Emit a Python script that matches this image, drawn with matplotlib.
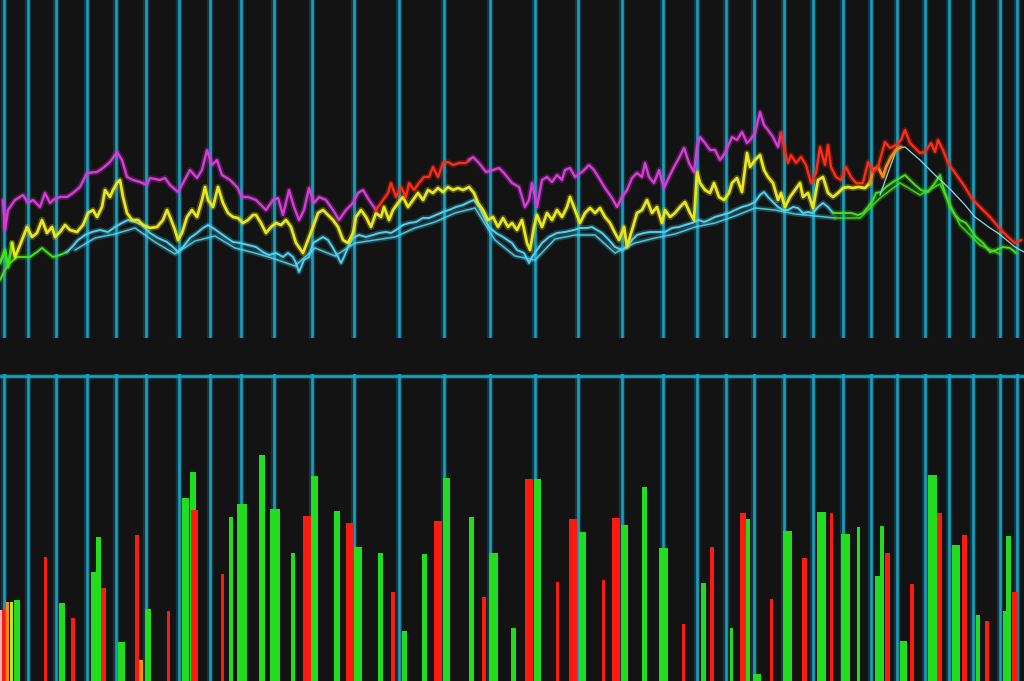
import numpy as np
import matplotlib
matplotlib.use("Agg")
import matplotlib.pyplot as plt
import matplotlib.patheffects as pe

# ---------------- data ----------------
# vertical session separators (time units)
session_marks = [4, 28, 56, 87, 116, 146, 179, 210, 241, 274, 312, 354, 399, 444, 490,
                 535, 578, 622, 663, 697, 726, 754, 784, 813, 843, 871, 897, 925, 949,
                 973, 1000, 1017]

# upper indicator (magenta / red)
upper_t = [3, 5, 8, 15, 23, 28, 33, 40, 45, 50, 53, 60, 67, 73, 80, 87, 97, 103, 110, 117,
           122, 127, 133, 140, 147, 150, 160, 165, 170, 178, 183, 190, 197, 202, 207, 212, 217, 222, 230, 237,
           242, 248, 256, 266, 273, 278, 283, 289, 294, 299, 304, 309, 314, 319, 326, 333, 339, 346, 353, 358,
           363, 369, 376,
           383, 388, 391, 396, 401, 406, 409, 414, 419, 424, 429, 433, 438, 443, 448, 453, 459, 466, 469,
           473, 479, 486, 493, 499, 504, 512, 519, 525, 529, 532, 537, 542, 547, 552, 557, 562, 565, 570, 575,
           582, 589, 594, 599, 605, 612, 617, 622, 627, 632, 637, 642, 645, 649, 654, 659, 664, 669, 674, 679,
           684, 689, 694, 697, 700, 705, 710, 715, 720, 725, 732, 737, 742, 747, 750, 755, 760, 764, 768, 773,
           778, 781,
           785, 788, 791, 796, 801, 806, 811, 816, 820, 825, 828, 831, 836, 841, 846, 851, 856, 863, 868, 873,
           878, 885, 890, 896, 901, 905, 910, 915, 920, 925, 931, 935, 938, 943, 948, 953, 958, 965, 971, 976,
           983, 990, 995, 1001, 1008, 1015, 1021]
upper_v = [138, 108, 128, 138, 143, 135, 138, 131, 145, 135, 138, 141, 141, 145, 151, 165, 166, 170, 176, 186,
           178, 161, 158, 156, 153, 160, 158, 160, 153, 146, 155, 168, 160, 168, 188, 173, 178, 163, 158, 151,
           141, 141, 138, 128, 138, 140, 123, 148, 131, 118, 128, 150, 135, 141, 138, 128, 118, 128, 135, 145,
           148, 138, 128,
           138, 145, 155, 141, 151, 141, 155, 148, 155, 161, 161, 171, 161, 175, 176, 173, 175, 175, 178,
           181, 175, 166, 168, 170, 165, 155, 151, 131, 138, 155, 131, 158, 161, 156, 163, 158, 168, 170, 161,
           166, 173, 168, 160, 150, 140, 131, 141, 148, 160, 165, 161, 175, 161, 155, 168, 150, 161, 171, 180,
           190, 175, 166, 191, 201, 195, 188, 188, 178, 185, 201, 198, 206, 195, 198, 205, 226, 213, 208, 201,
           191, 205,
           186, 175, 183, 175, 181, 173, 155, 165, 191, 173, 193, 171, 161, 158, 171, 161, 155, 155, 176, 166,
           171, 196, 190, 193, 198, 208, 195, 190, 185, 186, 195, 186, 198, 188, 175, 168, 161, 151, 141, 135,
           128, 121, 115, 108, 101, 95, 98]
upper_regimes = [(0, 380, "magenta"), (380, 471, "red"), (471, 783, "magenta"), (783, 1024, "red")]

# middle indicator (yellow)
mid_t = [0, 5, 8, 12, 15, 18, 22, 27, 32, 37, 42, 47, 52, 55, 60, 65, 70, 77, 83, 88,
         93, 97, 102, 105, 110, 113, 117, 120, 123, 127, 132, 138, 143, 150, 157, 163, 167, 170, 175, 178,
         182, 187, 192, 197, 202, 205, 208, 213, 218, 223, 228, 233, 238, 243, 248, 253, 256, 261, 266, 271,
         276, 281, 286, 291, 296, 303, 308, 313, 318, 323, 328, 333, 338, 343, 348, 353, 356, 361, 366, 371,
         376, 381, 384, 389, 393, 398, 403, 408, 413, 418, 423, 428, 433, 438, 443, 448, 453, 458, 463, 469,
         474, 478, 483, 488, 493, 498, 503, 508, 512, 517, 522, 527, 530, 534, 537, 542, 547, 552, 557, 562,
         567, 570, 575, 580, 585, 590, 595, 600, 605, 610, 615, 619, 624, 627, 632, 637, 642, 647, 652, 657,
         662, 665, 670, 675, 680, 685, 690, 694, 697, 700, 705, 710, 714, 719, 724, 729, 732, 737, 742, 747,
         750, 755, 760, 764, 768, 773, 778, 781, 785, 790, 795, 800, 803, 808, 813, 818, 823, 828, 833, 838,
         843, 848, 853, 858, 865, 870, 873, 878, 883, 886, 891, 896, 901]
mid_v = [75, 88, 71, 95, 81, 88, 98, 111, 101, 105, 118, 105, 111, 101, 106, 113, 108, 106, 113, 125,
         128, 121, 131, 148, 141, 148, 155, 158, 141, 125, 118, 118, 113, 110, 111, 118, 128, 121, 108, 98,
         105, 121, 128, 121, 138, 151, 138, 131, 151, 135, 125, 121, 120, 115, 118, 123, 123, 115, 105, 111,
         115, 113, 118, 111, 95, 85, 98, 111, 125, 128, 123, 118, 111, 98, 95, 105, 121, 128, 121, 111,
         125, 121, 131, 118, 128, 135, 141, 131, 138, 145, 138, 148, 145, 150, 146, 151, 148, 150, 148, 151,
         145, 135, 128, 118, 121, 111, 120, 111, 115, 108, 118, 95, 88, 111, 123, 111, 125, 118, 128, 121,
         131, 141, 128, 115, 125, 130, 125, 130, 121, 115, 105, 98, 111, 91, 108, 125, 128, 138, 125, 131,
         115, 128, 121, 125, 131, 136, 125, 118, 166, 155, 148, 145, 155, 141, 138, 145, 155, 160, 146, 185,
         171, 178, 183, 168, 161, 155, 138, 145, 131, 141, 148, 155, 141, 145, 130, 158, 161, 145, 141, 145,
         150, 151, 150, 151, 150, 155, 168, 171, 161, 171, 181, 188, 191]
mid_regimes = [(0, 14, "lime"), (14, 872, "yellow"), (872, 1024, "orange")]

# lower indicator (cyan / lime)
low_t = [0, 5, 10, 17, 23, 30, 37, 42, 48, 53, 60, 67, 72, 78, 85, 92, 100, 108, 115, 122,
         128, 135, 142, 150, 158, 167, 173, 178, 183, 190, 197, 203, 208, 213, 220, 227, 233, 240, 248, 256,
         263, 269, 276, 283, 288, 293, 296, 299, 304, 309, 313, 318, 323, 328, 333, 338, 341, 344, 348, 353,
         359, 366, 373, 379, 386, 391, 396, 403, 409, 416, 423, 429, 436, 443, 449, 456, 463, 469, 474, 479,
         484, 489, 496, 503, 512, 517, 524, 529, 532, 537, 542, 549, 557, 565, 574, 580, 587, 592, 597, 602,
         609, 615, 622, 627, 632, 637, 644, 650, 659, 665, 672, 679, 685, 692, 699, 704, 709, 715, 722, 729,
         735, 742, 749, 755, 760, 764, 768, 773, 778, 783, 788, 793, 798, 803, 808, 813, 818, 823, 828, 833,
         838, 845, 851, 858, 863, 868, 873, 876, 881, 886, 893, 900, 905, 910, 915, 921, 928, 935, 940, 945,
         950, 955, 960, 966, 971, 976, 983, 990, 996, 1003, 1010, 1016, 1024]
low_v = [58, 68, 75, 81, 81, 81, 86, 90, 85, 81, 83, 86, 91, 98, 103, 106, 108, 106, 111, 115,
         118, 116, 113, 105, 100, 96, 91, 86, 91, 100, 105, 110, 113, 110, 105, 100, 96, 95, 93, 91,
         86, 83, 85, 81, 85, 81, 75, 66, 78, 81, 95, 98, 101, 98, 90, 81, 75, 81, 91, 100,
         103, 101, 103, 105, 106, 105, 108, 113, 115, 116, 120, 120, 123, 126, 128, 131, 133, 136, 138, 131,
         121, 111, 105, 101, 95, 88, 85, 75, 81, 88, 95, 101, 105, 106, 108, 110, 110, 111, 108, 105,
         98, 91, 88, 91, 98, 103, 105, 106, 106, 106, 110, 111, 113, 115, 118, 116, 118, 121, 123, 125,
         128, 131, 133, 136, 143, 146, 141, 136, 131, 128, 128, 131, 130, 125, 126, 125, 131, 135, 131, 125,
         125, 125, 125, 123, 125, 131, 138, 145, 146, 151, 156, 160, 163, 158, 153, 148, 146, 155, 163, 145,
         131, 123, 118, 115, 108, 101, 95, 86, 88, 91, 90, 85, 80]
low_regimes = [(0, 72, "lime"), (72, 836, "cyan"), (836, 1024, "lime")]

# slower companion of the lower indicator
slow_t = [75, 95, 115, 135, 155, 175, 195, 215, 235, 255, 275, 295, 315, 335, 355, 375, 395, 415, 435, 455,
          475, 495, 515, 535, 555, 575, 595, 615, 635, 655, 675, 695, 715, 735, 755, 775, 795, 815, 835,
          860, 880, 900, 920, 940, 960, 980, 1000, 1024]
slow_v = [88, 100, 104, 110, 96, 84, 97, 102, 90, 85, 79, 72, 90, 82, 95, 98, 101, 110, 116, 125,
          130, 98, 82, 78, 99, 103, 103, 85, 95, 100, 104, 111, 115, 122, 130, 128, 124, 122, 120,
          120, 140, 155, 143, 154, 113, 93, 84, 76]
slow_regimes = [(0, 836, "cyan"), (836, 1024, "lime")]

# thin signal line at the right end
signal_t = [880, 897, 905, 920, 935, 951, 965, 975, 990, 998, 1015, 1024]
signal_v = [143, 190, 191, 178, 163, 148, 133, 121, 110, 105, 91, 86]

# volume bars
bar_t = [1, 3, 7, 11, 17, 45, 62, 73, 98, 95, 103, 121, 137, 141, 148, 168, 185, 193, 194, 222,
         231, 242, 262, 275, 293, 307, 314, 337, 350, 358, 380, 393, 404, 424, 438, 446, 471, 484, 493, 513,
         529, 537, 557, 573, 582, 603, 616, 624, 644, 663, 683, 703, 712, 731, 743, 748, 757, 771, 787, 804,
         821, 831, 845, 858, 879, 882, 887, 903, 912, 932, 939, 956, 964, 978, 987, 1006, 1008, 1015]
bar_volume = [71, 71, 79, 79, 81, 124, 78, 63, 144, 109, 93, 39, 146, 21, 72, 70, 183, 209, 171, 107,
              164, 177, 226, 172, 128, 165, 205, 170, 158, 134, 128, 89, 50, 127, 160, 203, 164, 84, 128, 53,
              202, 202, 99, 162, 149, 101, 163, 156, 194, 133, 57, 98, 134, 53, 168, 162, 7, 82, 150, 123,
              169, 168, 147, 154, 105, 155, 128, 40, 97, 206, 168, 136, 146, 66, 60, 70, 145, 89]
bar_widths = [3, 3, 3, 3, 6, 3, 6, 4, 5, 8, 5, 7, 4, 4, 6, 3, 7, 6, 7, 3,
              4, 10, 6, 10, 4, 8, 7, 6, 8, 8, 5, 4, 5, 5, 8, 7, 5, 4, 9, 5,
              8, 7, 3, 8, 7, 3, 8, 7, 5, 9, 3, 5, 4, 3, 6, 4, 8, 3, 9, 5,
              9, 3, 9, 3, 9, 4, 5, 7, 4, 9, 5, 8, 5, 4, 4, 6, 5, 6]
bar_kind = ["p", "r", "o", "y", "g", "r", "g", "r", "g", "g", "r", "g", "r", "o", "g", "r", "g", "g", "r", "r",
            "g", "g", "g", "g", "g", "r", "g", "g", "r", "g", "g", "r", "g", "g", "r", "g", "g", "r", "g", "g",
            "r", "g", "r", "r", "g", "r", "r", "g", "g", "g", "r", "g", "r", "g", "r", "g", "g", "r", "g", "r",
            "g", "r", "g", "g", "g", "g", "r", "g", "r", "g", "r", "g", "r", "g", "r", "g", "g", "r"]

# ---------------- style ----------------
BG = "#131313"
GRID = "#179fc0"
COL = {"magenta": "#d93ad9", "red": "#ff2b12", "yellow": "#e8e61c", "orange": "#ff8a10",
       "lime": "#44e01c", "cyan": "#4fd3f0"}
BAR_COL = {"g": "#22dd1e", "r": "#ff1a10", "o": "#ff8c10", "y": "#c8e020", "p": "#f0b0c0"}

fig = plt.figure(figsize=(10.24, 6.81), dpi=100, facecolor=BG)
ax_top = fig.add_axes([0, 343 / 681, 1, 338 / 681])
ax_bot = fig.add_axes([0, 0, 1, 307 / 681])
for ax in (ax_top, ax_bot):
    ax.set_facecolor(BG)
    ax.set_xlim(0, 1024)
    ax.axis("off")
ax_top.set_ylim(0, 338)
ax_bot.set_ylim(0, 307)

glow_grid = [pe.Stroke(linewidth=4.5, foreground=GRID, alpha=0.25), pe.Normal()]
for t in session_marks:
    ax_top.axvline(t, color=GRID, lw=1.9, zorder=1, path_effects=glow_grid)
    ax_bot.axvline(t, color=GRID, lw=1.9, zorder=1, path_effects=glow_grid)
ax_bot.axhline(305, color=GRID, lw=1.9, zorder=1, path_effects=glow_grid)


def draw_regimes(ax, t, v, regimes, lw, z, alpha=1.0):
    t = np.asarray(t, float)
    v = np.asarray(v, float)
    for lo, hi, cname in regimes:
        idx = np.where((t >= lo) & (t < hi))[0]
        if len(idx) == 0:
            continue
        i0 = max(idx[0] - 1, 0)
        i1 = idx[-1] + 1
        c = COL[cname]
        ax.plot(t[i0:i1], v[i0:i1], color=c, lw=lw, zorder=z, alpha=alpha,
                solid_joinstyle="round", solid_capstyle="round",
                path_effects=[pe.Stroke(linewidth=lw + 2.5, foreground=c, alpha=0.25), pe.Normal()])


draw_regimes(ax_top, slow_t, slow_v, slow_regimes, 1.1, 3, alpha=0.9)
draw_regimes(ax_top, low_t, low_v, low_regimes, 1.4, 4)
ax_top.plot(signal_t, signal_v, color="#8fd8ee", lw=0.9, zorder=4)
draw_regimes(ax_top, mid_t, mid_v, mid_regimes, 2.0, 5)
draw_regimes(ax_top, upper_t, upper_v, upper_regimes, 1.7, 6)

ax_bot.bar(bar_t, bar_volume, width=bar_widths,
           color=[BAR_COL[k] for k in bar_kind], zorder=3, linewidth=0)

fig.savefig("out.png", dpi=100, facecolor=BG)
